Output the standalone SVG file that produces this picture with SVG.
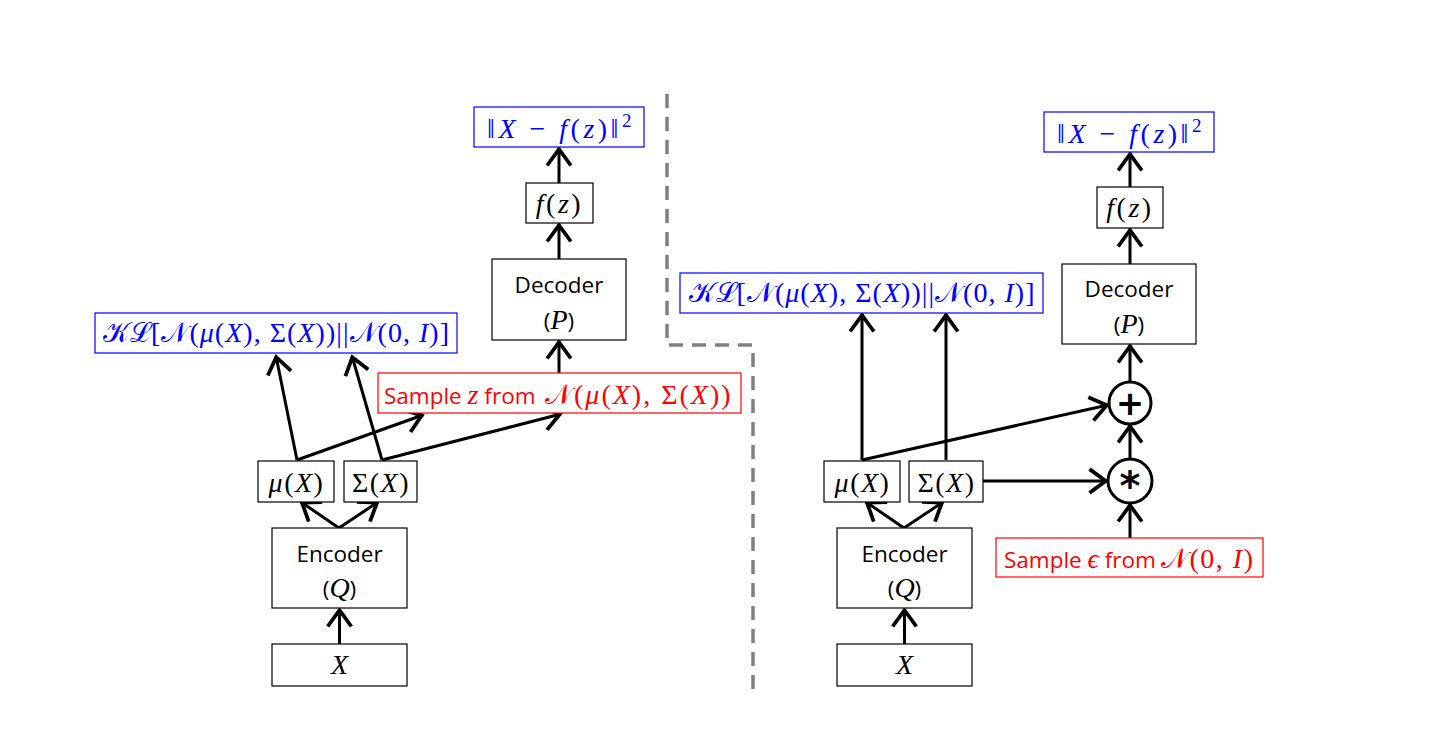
<svg xmlns="http://www.w3.org/2000/svg" width="1429" height="741" viewBox="0 0 1429 741">
<defs>
<marker id="ah" markerUnits="userSpaceOnUse" markerWidth="30" markerHeight="30" viewBox="-16 -12 20 24" refX="1" refY="0" orient="auto">
<path d="M -13 -9.5 L 0 0 L -13 9.5" fill="none" stroke="#000" stroke-width="3"/>
</marker>
</defs>
<style>
.bx{fill:#fff;stroke:#000;stroke-width:1.2}
.bb{fill:#fff;stroke:#0000ff;stroke-width:1.2}
.rb{fill:#fff;stroke:#ff0000;stroke-width:1.2}
.m{font-family:"Liberation Serif","DejaVu Serif",serif;font-size:28px}
.ls{letter-spacing:1.5px}
.i{font-style:italic}
.s{font-family:"Open Sans","Noto Sans",sans-serif;font-size:22.5px}
.blue{fill:#0000ff}
.red{fill:#ff0000}
.k{fill:#000}
.c{fill:none;stroke:#000;stroke-width:3;marker-end:url(#ah)}
.dash{fill:none;stroke:#808080;stroke-width:3.5;stroke-dasharray:14 9}
.circ{fill:#fff;stroke:#000;stroke-width:3}
</style>
<rect width="1429" height="741" fill="#fff"/>

<path class="dash" d="M667 94 L667 345 L753 345 L753 690"/>

<g id="connectors">
<line class="c" x1="339.5" y1="644" x2="339.5" y2="609"/>
<line class="c" x1="339" y1="528" x2="301" y2="502"/>
<line class="c" x1="339" y1="528" x2="378" y2="502"/>
<line class="c" x1="297" y1="460" x2="276" y2="356"/>
<line class="c" x1="297" y1="460" x2="423" y2="415"/>
<line class="c" x1="382" y1="460" x2="352" y2="356"/>
<line class="c" x1="382" y1="460" x2="561" y2="414"/>
<line class="c" x1="559" y1="373" x2="559" y2="341"/>
<line class="c" x1="559" y1="259" x2="559" y2="224"/>
<line class="c" x1="559" y1="183" x2="559" y2="148"/>

<line class="c" x1="904.5" y1="644" x2="904.5" y2="609"/>
<line class="c" x1="904" y1="528" x2="866" y2="502"/>
<line class="c" x1="904" y1="528" x2="943" y2="502"/>
<line class="c" x1="862" y1="460" x2="862" y2="314"/>
<line class="c" x1="946" y1="460" x2="946" y2="314"/>
<line class="c" x1="862" y1="460" x2="1108" y2="405"/>
<line class="c" x1="983" y1="481" x2="1107" y2="481"/>
<line class="c" x1="1130" y1="538" x2="1130" y2="504"/>
<line class="c" x1="1130" y1="459" x2="1130" y2="425"/>
<line class="c" x1="1130" y1="382" x2="1130" y2="345"/>
<line class="c" x1="1130" y1="264" x2="1130" y2="229"/>
<line class="c" x1="1130" y1="187" x2="1130" y2="153"/>
</g>

<!-- Left diagram -->
<g id="L_X"><rect class="bx" x="272" y="644" width="135" height="42"/>
<text class="m i k" x="339.5" y="674" text-anchor="middle">X</text></g>

<g id="L_encoder"><rect class="bx" x="272" y="528" width="135" height="80"/>
<text class="s k" x="339.5" y="562" text-anchor="middle">Encoder</text>
<text class="s k" x="339.5" y="597" text-anchor="middle">(<tspan class="m i" font-size="25">Q</tspan>)</text></g>

<g id="L_mu"><rect class="bx" x="258" y="461" width="76" height="41"/>
<text class="m ls k" x="296.5" y="492" text-anchor="middle"><tspan class="i">μ</tspan>(<tspan class="i">X</tspan>)</text></g>

<g id="L_sigma"><rect class="bx" x="344" y="461" width="73" height="41"/>
<text class="m ls k" x="381" y="492" text-anchor="middle">Σ(<tspan class="i">X</tspan>)</text></g>

<g id="L_kl"><rect class="bb" x="95" y="313" width="362" height="40"/>
<text class="m blue" x="276" y="342" text-anchor="middle" textLength="346">𝒦ℒ[𝒩(<tspan class="i">μ</tspan>(<tspan class="i">X</tspan>), Σ(<tspan class="i">X</tspan>))||𝒩(0, <tspan class="i">I</tspan>)]</text></g>

<g id="L_sample"><rect class="rb" x="378" y="373" width="363" height="40"/>
<text class="red" x="384" y="404"><tspan class="s">Sample </tspan><tspan class="m i">z</tspan><tspan class="s"> from</tspan></text>
<text class="m red" x="545" y="404" font-size="29" letter-spacing="2">𝒩(<tspan class="i">μ</tspan>(<tspan class="i">X</tspan>), Σ(<tspan class="i">X</tspan>))</text></g>

<g id="L_decoder"><rect class="bx" x="492" y="259" width="134" height="81"/>
<text class="s k" x="559" y="293" text-anchor="middle">Decoder</text>
<text class="s k" x="559" y="329" text-anchor="middle">(<tspan class="m i" font-size="25">P</tspan>)</text></g>

<g id="L_fz"><rect class="bx" x="526" y="183" width="67" height="40"/>
<text class="m k" x="559.5" y="213" text-anchor="middle" letter-spacing="2.5"><tspan class="i">f</tspan>(<tspan class="i">z</tspan>)</text></g>

<g id="L_loss"><rect class="bb" x="474" y="107" width="170" height="40"/>
<text class="m blue" x="487" y="138" font-size="30" letter-spacing="3.5">‖<tspan class="i">X</tspan> − <tspan class="i">f</tspan>(<tspan class="i">z</tspan>)‖<tspan font-size="19" dy="-11">2</tspan></text></g>

<!-- Right diagram -->
<g id="R_X"><rect class="bx" x="837" y="644" width="135" height="42"/>
<text class="m i k" x="904.5" y="674" text-anchor="middle">X</text></g>

<g id="R_encoder"><rect class="bx" x="837" y="528" width="135" height="80"/>
<text class="s k" x="904.5" y="562" text-anchor="middle">Encoder</text>
<text class="s k" x="904.5" y="597" text-anchor="middle">(<tspan class="m i" font-size="25">Q</tspan>)</text></g>

<g id="R_mu"><rect class="bx" x="824" y="461" width="76" height="41"/>
<text class="m ls k" x="862.5" y="492" text-anchor="middle"><tspan class="i">μ</tspan>(<tspan class="i">X</tspan>)</text></g>

<g id="R_sigma"><rect class="bx" x="909" y="461" width="74" height="41"/>
<text class="m ls k" x="946.5" y="492" text-anchor="middle">Σ(<tspan class="i">X</tspan>)</text></g>

<g id="R_kl"><rect class="bb" x="680" y="273" width="363" height="40"/>
<text class="m blue" x="861.5" y="302" text-anchor="middle" textLength="346">𝒦ℒ[𝒩(<tspan class="i">μ</tspan>(<tspan class="i">X</tspan>), Σ(<tspan class="i">X</tspan>))||𝒩(0, <tspan class="i">I</tspan>)]</text></g>

<g id="R_sample"><rect class="rb" x="996" y="538" width="267" height="39"/>
<text class="red" x="1004" y="568"><tspan class="s">Sample </tspan><tspan class="m i">ϵ</tspan><tspan class="s"> from</tspan></text>
<text class="m red" x="1161" y="568" font-size="29" letter-spacing="1.5">𝒩(0, <tspan class="i">I</tspan>)</text></g>

<g id="R_mult"><circle class="circ" cx="1130" cy="481" r="22"/>
<text x="1130" y="500" text-anchor="middle" font-family="DejaVu Sans,sans-serif" font-weight="bold" font-size="40" fill="#000">*</text></g>

<g id="R_plus"><circle class="circ" cx="1130" cy="403" r="21"/>
<text x="1130" y="415" text-anchor="middle" font-family="DejaVu Sans,sans-serif" font-weight="bold" font-size="34" fill="#000">+</text></g>

<g id="R_decoder"><rect class="bx" x="1062" y="264" width="134" height="80"/>
<text class="s k" x="1129" y="297" text-anchor="middle">Decoder</text>
<text class="s k" x="1129" y="333" text-anchor="middle">(<tspan class="m i" font-size="25">P</tspan>)</text></g>

<g id="R_fz"><rect class="bx" x="1097" y="187" width="66" height="41"/>
<text class="m k" x="1130" y="217" text-anchor="middle" letter-spacing="2.5"><tspan class="i">f</tspan>(<tspan class="i">z</tspan>)</text></g>

<g id="R_loss"><rect class="bb" x="1044" y="112" width="170" height="40"/>
<text class="m blue" x="1057" y="143" font-size="30" letter-spacing="3.5">‖<tspan class="i">X</tspan> − <tspan class="i">f</tspan>(<tspan class="i">z</tspan>)‖<tspan font-size="19" dy="-11">2</tspan></text></g>
</svg>
